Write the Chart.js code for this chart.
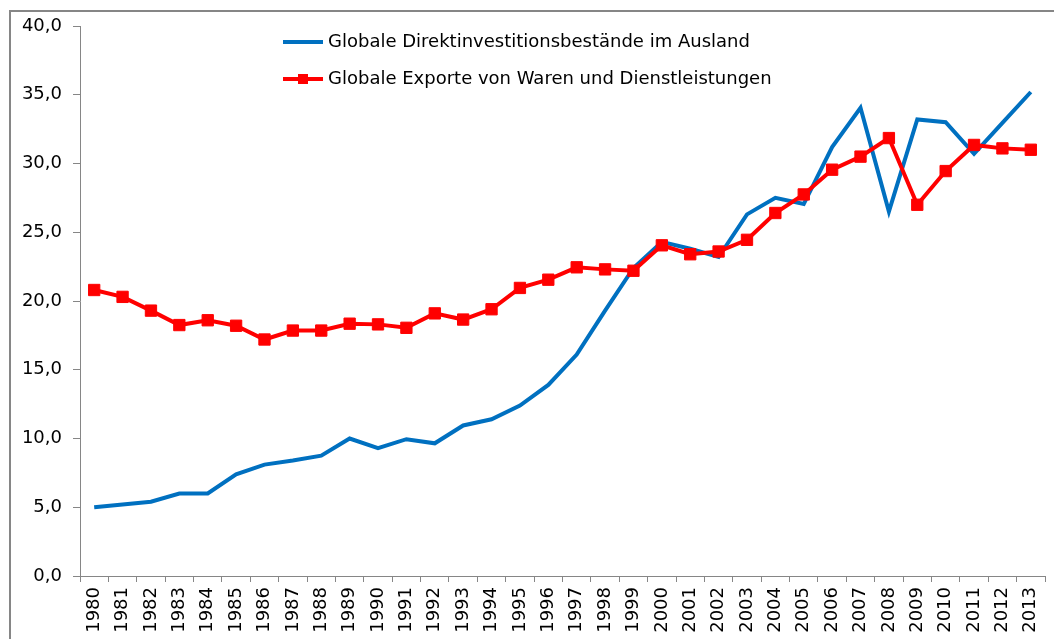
<!DOCTYPE html>
<html>
<head>
<meta charset="utf-8">
<script src="https://cdn.jsdelivr.net/npm/chart.js@4"></script>
<style>
html,body{margin:0;padding:0;background:#fff;overflow:hidden;width:1054px;height:639px;}
canvas{position:absolute;left:0;top:0;}
</style>
</head>
<body>
<canvas id="c" width="1054" height="639"></canvas>
<script>
const years = ["1980","1981","1982","1983","1984","1985","1986","1987","1988","1989","1990","1991","1992","1993","1994","1995","1996","1997","1998","1999","2000","2001","2002","2003","2004","2005","2006","2007","2008","2009","2010","2011","2012","2013"];
const fdiStock = [5.0,5.2,5.4,6.0,6.0,7.4,8.1,8.4,8.75,10.0,9.3,9.95,9.65,10.95,11.4,12.4,13.9,16.1,19.3,22.4,24.3,23.8,23.2,26.3,27.5,27.05,31.2,34.05,26.5,33.2,33.0,30.7,32.95,35.2];
const exportsGoods = [20.8,20.3,19.3,18.25,18.6,18.2,17.2,17.85,17.85,18.35,18.3,18.05,19.1,18.65,19.4,20.95,21.55,22.45,22.3,22.2,24.05,23.4,23.6,24.45,26.4,27.75,29.55,30.5,31.85,27.0,29.45,31.35,31.1,31.0];
const seriesNames = ["Globale Direktinvestitionsbestände im Ausland","Globale Exporte von Waren und Dienstleistungen"];
const blue = "#0070C0", red = "#FF0000";
const FONT = "'DejaVu Sans', sans-serif";

const framePlugin = {
  id: 'outerFrame',
  beforeDraw(chart) {
    const ctx = chart.ctx;
    ctx.save();
    ctx.fillStyle = '#868686';
    ctx.fillRect(9, 10, 2, 629);
    ctx.fillRect(9, 10, 1045, 2);
    ctx.restore();
  }
};

const legendPlugin = {
  id: 'insideLegend',
  afterDraw(chart) {
    const ctx = chart.ctx;
    ctx.save();
    const x0 = 283, x1 = 323, tx = 328;
    const rows = [{y:42, color:blue, marker:false, label:seriesNames[0]},{y:79, color:red, marker:true, label:seriesNames[1]}];
    rows.forEach(r => {
      ctx.strokeStyle = r.color; ctx.lineWidth = 4; ctx.lineCap = 'butt';
      ctx.beginPath(); ctx.moveTo(x0, r.y); ctx.lineTo(x1, r.y); ctx.stroke();
      if (r.marker) { ctx.fillStyle = r.color; ctx.fillRect(303-5, r.y-5, 10, 10); }
      ctx.fillStyle = '#000'; ctx.font = "18px " + FONT; ctx.textBaseline = 'middle'; ctx.textAlign = 'left';
      ctx.fillText(r.label, tx, r.y);
    });
    ctx.restore();
  }
};

new Chart(document.getElementById('c'), {
  type: 'line',
  data: {
    labels: years,
    datasets: [
      {label: seriesNames[0], data: fdiStock, borderColor: blue, backgroundColor: blue, borderWidth: 4, pointRadius: 0, tension: 0, order: 2},
      {label: seriesNames[1], data: exportsGoods, borderColor: red, backgroundColor: red, borderWidth: 4, pointStyle: 'rect', pointRadius: 8, pointBorderWidth: 1, tension: 0, order: 1}
    ]
  },
  options: {
    responsive: false,
    animation: false,
    layout: {padding: {top: 26, right: 9, left: 0, bottom: 0}},
    plugins: {legend: {display: false}, tooltip: {enabled: false}, title: {display: false}},
    scales: {
      x: {
        offset: true,
        grid: {offset: true, drawOnChartArea: false, drawTicks: true, tickLength: 6, color: '#868686'},
        border: {color: '#868686', width: 1},
        ticks: {minRotation: 90, maxRotation: 90, autoSkip: false, color: '#000', font: {family: FONT, size: 18}, padding: 5},
        afterFit(s) { s.height = 63; s.paddingLeft = 0; s.paddingRight = 0; }
      },
      y: {
        min: 0, max: 40,
        grid: {drawOnChartArea: false, drawTicks: true, tickLength: 7, color: '#868686'},
        border: {color: '#868686', width: 1},
        ticks: {stepSize: 5, color: '#000', font: {family: FONT, size: 18}, padding: 11,
          callback: v => v.toFixed(1).replace('.', ',')},
        afterFit(s) { s.width = 80; s.paddingTop = 0; s.paddingBottom = 0; }
      }
    }
  },
  plugins: [framePlugin, legendPlugin]
});
</script>
</body>
</html>
